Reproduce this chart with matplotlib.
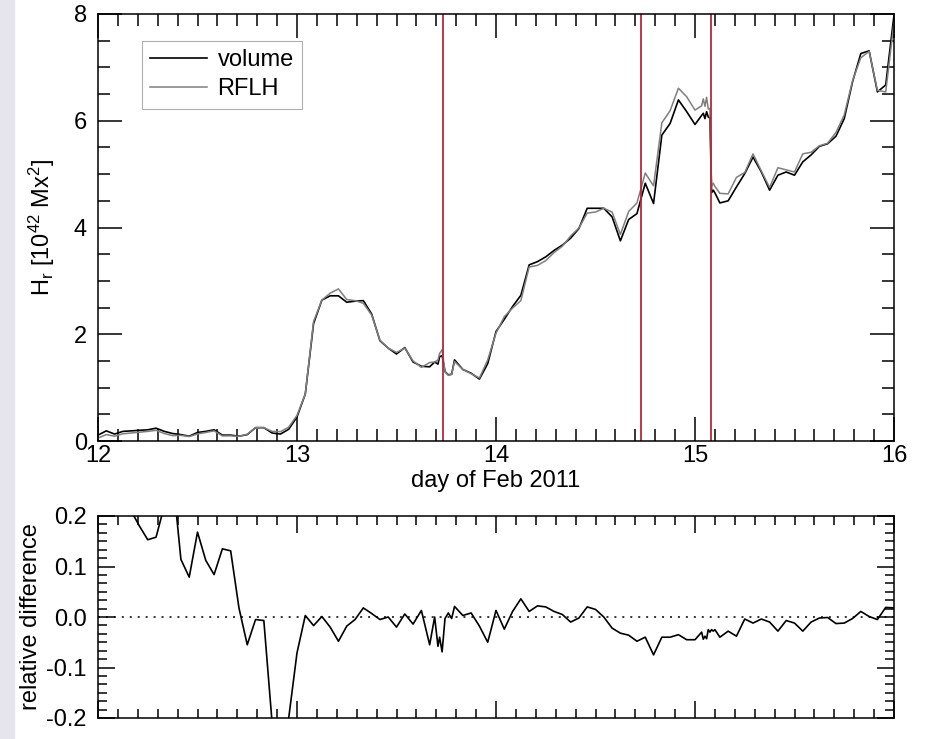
import numpy as np
import matplotlib.pyplot as plt
from matplotlib.ticker import MultipleLocator, AutoMinorLocator, FormatStrFormatter
from matplotlib.patches import Rectangle

plt.rcParams['font.family'] = ['Liberation Sans', 'DejaVu Sans']
plt.rcParams['mathtext.fontset'] = 'custom'
plt.rcParams['mathtext.rm'] = 'Liberation Sans'
plt.rcParams['mathtext.default'] = 'regular'

# hours after 2011-02-12 00:00 UT (denser sampling around the flares)
hours = np.array([0, 1, 2, 3, 4, 5, 6, 7, 8, 9, 10, 11, 12, 13, 14, 15, 16, 17, 18, 19,
                  20, 21, 22, 23, 24, 25, 26, 27, 28, 29, 30, 31, 32, 33, 34, 35, 36, 37, 38, 39,
                  40, 40.6, 41, 41.2, 41.5, 41.85, 42.25, 42.65, 43,
                  44, 45, 46, 47, 48, 49, 50, 51, 52, 53, 54, 55, 56, 57, 58, 59,
                  60, 61, 62, 63, 64, 65, 66, 67, 68, 69, 70, 71, 72,
                  72.8, 73, 73.2, 73.4, 73.6, 73.8, 74, 74.2, 74.4,
                  75, 76, 77, 78, 79, 80, 81, 82, 83, 84, 85, 86, 87, 88, 89, 90,
                  91, 92, 93, 94, 95, 96])

# relative helicity [10^42 Mx^2]
volume = np.array([0.11, 0.19, 0.13, 0.18, 0.19, 0.20, 0.21, 0.24, 0.18, 0.14,
                   0.12, 0.09, 0.16, 0.18, 0.21, 0.11, 0.11, 0.09, 0.12, 0.25,
                   0.25, 0.15, 0.13, 0.22, 0.45, 0.88, 2.20, 2.64, 2.72, 2.72,
                   2.60, 2.62, 2.63, 2.38, 1.88, 1.74, 1.63, 1.75, 1.48, 1.40,
                   1.39, 1.48, 1.44, 1.58, 1.60, 1.30, 1.24, 1.25, 1.52,
                   1.34, 1.27, 1.16, 1.45, 2.05, 2.28, 2.52, 2.73, 3.30, 3.36,
                   3.45, 3.57, 3.67, 3.80, 3.98, 4.36, 4.36, 4.36, 4.20, 3.75,
                   4.15, 4.26, 4.83, 4.45, 5.73, 5.95, 6.39, 6.17, 5.93,
                   6.10, 6.14, 6.04, 6.17, 6.07, 6.05, 4.65, 4.70, 4.65,
                   4.46, 4.50, 4.76, 5.01, 5.32, 5.04, 4.70, 4.98, 5.04, 4.98,
                   5.23, 5.36, 5.52, 5.57, 5.71, 6.04, 6.73, 7.26, 7.31, 6.54,
                   6.67, 7.98])

rflh = np.array([0.055, 0.12, 0.09, 0.135, 0.15, 0.165, 0.18, 0.20, 0.14, 0.10,
                 0.106, 0.083, 0.133, 0.16, 0.19, 0.095, 0.096, 0.088, 0.127, 0.25,
                 0.25, 0.18, 0.175, 0.26, 0.48, 0.88, 2.24, 2.64, 2.77, 2.85,
                 2.65, 2.63, 2.58, 2.36, 1.89, 1.74, 1.66, 1.74, 1.50, 1.38,
                 1.47, 1.48, 1.52, 1.64, 1.71, 1.30, 1.23, 1.25, 1.49,
                 1.34, 1.26, 1.18, 1.52, 2.02, 2.33, 2.49, 2.63, 3.26, 3.29,
                 3.38, 3.53, 3.65, 3.84, 3.99, 4.27, 4.29, 4.36, 4.29, 3.87,
                 4.30, 4.46, 5.02, 4.78, 5.96, 6.19, 6.61, 6.45, 6.20,
                 6.28, 6.41, 6.27, 6.44, 6.22, 6.23, 4.77, 4.83, 4.77,
                 4.64, 4.63, 4.94, 5.03, 5.38, 5.06, 4.75, 5.12, 5.08, 5.04,
                 5.38, 5.41, 5.53, 5.58, 5.78, 6.11, 6.75, 7.18, 7.30, 6.57,
                 6.54, 7.84])

reldiff = np.array([0.50, 0.37, 0.31, 0.25, 0.21, 0.18, 0.153, 0.158, 0.22, 0.28,
                    0.114, 0.079, 0.168, 0.112, 0.084, 0.135, 0.131, 0.018, -0.055, -0.005,
                    -0.007, -0.21, -0.35, -0.20, -0.071, 0.003, -0.017, 0.001, -0.020, -0.048,
                    -0.018, -0.005, 0.018, 0.007, -0.005, 0.0, -0.020, 0.006, -0.014, 0.013,
                    -0.055, 0.0, -0.058, -0.040, -0.069, -0.003, 0.008, -0.003, 0.021,
                    0.003, 0.008, -0.018, -0.050, 0.013, -0.024, 0.011, 0.036, 0.011, 0.022,
                    0.020, 0.011, 0.005, -0.010, -0.002, 0.020, 0.015, 0.0, -0.022, -0.032,
                    -0.036, -0.048, -0.040, -0.075, -0.040, -0.040, -0.035, -0.045, -0.045,
                    -0.030, -0.044, -0.038, -0.043, -0.025, -0.030, -0.025, -0.028, -0.025,
                    -0.040, -0.028, -0.038, -0.004, -0.012, -0.004, -0.010, -0.028, -0.007, -0.012,
                    -0.028, -0.010, -0.002, -0.001, -0.013, -0.012, -0.003, 0.011, 0.001, -0.005,
                    0.019, 0.018])

flare_days = [13.735, 14.727, 15.082]

day = 12 + hours / 24.

fontsize = 17
red = '#b5283f'

fig = plt.figure(figsize=(9.29, 7.39), dpi=100)
# light strip on the left edge
fig.patches.append(Rectangle((0, 0), 14 / 929, 1, transform=fig.transFigure,
                             color='#e6e4ec', zorder=-1))

ax1 = fig.add_axes([98 / 929, 1 - 441 / 739, 796 / 929, 427 / 739])
ax2 = fig.add_axes([98 / 929, 1 - 718 / 739, 796 / 929, 202 / 739])

# top panel
ax1.plot(day, volume, c='black', lw=1.2, label='volume')
ax1.plot(day, rflh, c='#7f7f7f', lw=1.1, label='RFLH')
for d in flare_days:
    ax1.axvline(d, c=red, lw=1.3)

ax1.set_xlim(12, 16)
ax1.set_ylim(0, 8)
ax1.xaxis.set_major_locator(MultipleLocator(1))
ax1.xaxis.set_minor_locator(AutoMinorLocator(10))
ax1.yaxis.set_major_locator(MultipleLocator(2))
ax1.yaxis.set_minor_locator(AutoMinorLocator(4))
ax1.tick_params(which='both', direction='in', top=True, right=True,
                labelsize=fontsize, width=1.1)
ax1.tick_params(which='major', length=17)
ax1.tick_params(which='minor', length=8.6)
ax1.tick_params(axis='x', pad=3)
ax1.tick_params(axis='y', pad=8)

ax1.set_xlabel('day of Feb 2011', fontsize=fontsize, labelpad=2)
ax1.set_ylabel(r'H$_{r}$ [10$^{42}$ Mx$^{2}$]', fontsize=fontsize)
ax1.yaxis.set_label_coords(-0.052, 0.5)

leg = ax1.legend(loc='upper left', bbox_to_anchor=(0.0553, 0.9368), borderaxespad=0,
                 fontsize=fontsize, fancybox=False, edgecolor='#b0b0b0', framealpha=1,
                 handlelength=2.4, handletextpad=0.45, labelspacing=0.3, borderpad=0.35)
leg.get_frame().set_linewidth(0.8)

# bottom panel
ax2.plot(day, reldiff, c='black', lw=1.2)
ax2.axhline(0, c='black', lw=1.1, ls=(0, (1.3, 3.9)))

ax2.set_xlim(12, 16)
ax2.set_ylim(-0.2, 0.2)
ax2.xaxis.set_major_locator(MultipleLocator(1))
ax2.xaxis.set_minor_locator(AutoMinorLocator(10))
ax2.yaxis.set_major_locator(MultipleLocator(0.1))
ax2.yaxis.set_minor_locator(AutoMinorLocator(6))
ax2.yaxis.set_major_formatter(FormatStrFormatter('%.1f'))
ax2.tick_params(which='both', direction='in', top=True, right=True,
                labelsize=fontsize, width=1.1, labelbottom=False)
ax2.tick_params(which='major', length=12)
ax2.tick_params(which='minor', length=6.5)
ax2.tick_params(axis='y', pad=8)

ax2.set_ylabel('relative difference', fontsize=fontsize)
ax2.yaxis.set_label_coords(-0.070, 0.5)

for ax in (ax1, ax2):
    for s in ax.spines.values():
        s.set_linewidth(1.1)

fig.savefig('out.png', dpi=100)
